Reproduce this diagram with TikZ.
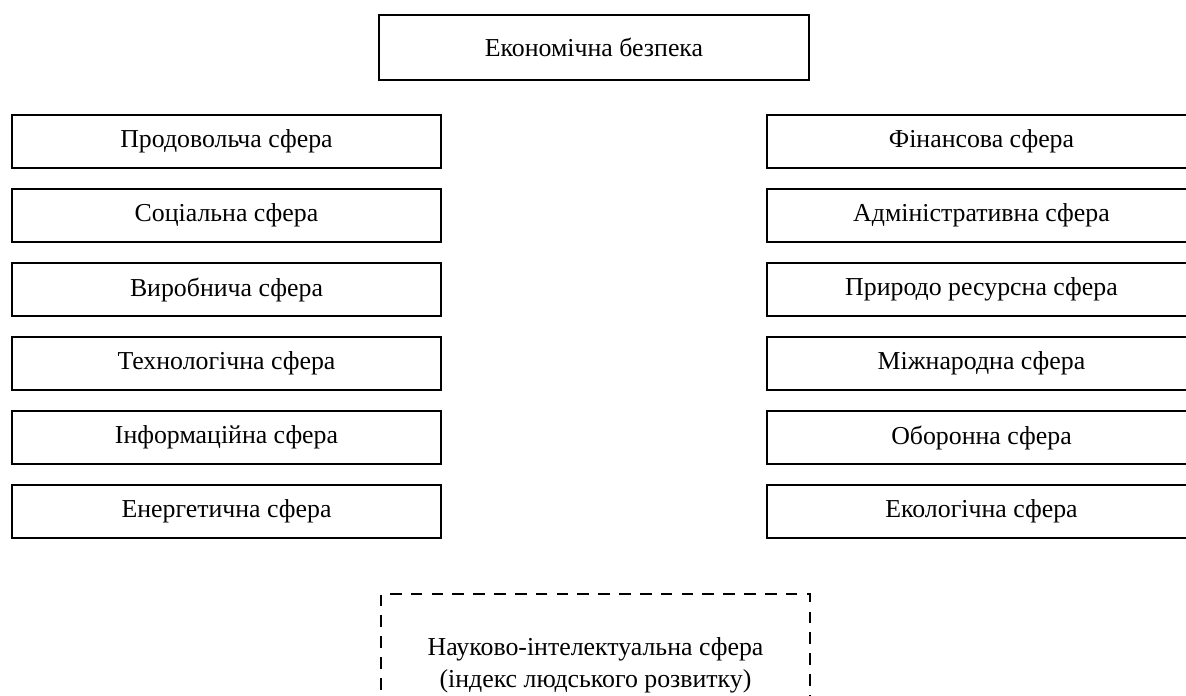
\documentclass[tikz,border=0pt]{standalone}
\usepackage{fontspec}
\setmainfont{Liberation Serif}
\usetikzlibrary{positioning}
\tikzset{
	sphere/.style = {draw, line width=1.4pt, minimum width=257.4pt, minimum height=31.8pt, inner sep=0pt, font=\fontsize{15.5}{18}\selectfont},
	hub/.style = {sphere, minimum width=258pt, minimum height=39pt},
	extra/.style = {sphere, dashed, dash pattern=on 7pt off 5.5pt, minimum height=85pt, align=center, font=\fontsize{15.5}{19.2}\selectfont},
}

\begin{document}
\begin{tikzpicture}[x=0.6pt, y=-0.6pt, node distance=11.2pt and 194.2pt]
			\useasboundingbox (0,0) rectangle (1186,695);
			\node[hub] (econ) at (594,47.5) {Економічна безпека};
			% left column
			\node[sphere] (food) at (226.5,141.5) {Продовольча сфера};
			\node[sphere, below=of food] (social) {Соціальна сфера};
			\node[sphere, below=of social] (prod) {Виробнича сфера};
			\node[sphere, below=of prod] (tech) {Технологічна сфера};
			\node[sphere, below=of tech] (info) {Інформаційна сфера};
			\node[sphere, below=of info] (energy) {Енергетична сфера};
			% right column
			\node[sphere, right=of food] (fin) {Фінансова сфера};
			\node[sphere, right=of social] (admin) {Адміністративна сфера};
			\node[sphere, right=of prod] (nature) {Природо ресурсна сфера};
			\node[sphere, right=of tech] (intl) {Міжнародна сфера};
			\node[sphere, right=of info] (defence) {Оборонна сфера};
			\node[sphere, right=of energy] (eco) {Екологічна сфера};
			% dashed one
			\node[extra] (science) at (595.5,665) {Науково-інтелектуальна сфера\\(індекс людського розвитку)};
		\end{tikzpicture}
\end{document}
